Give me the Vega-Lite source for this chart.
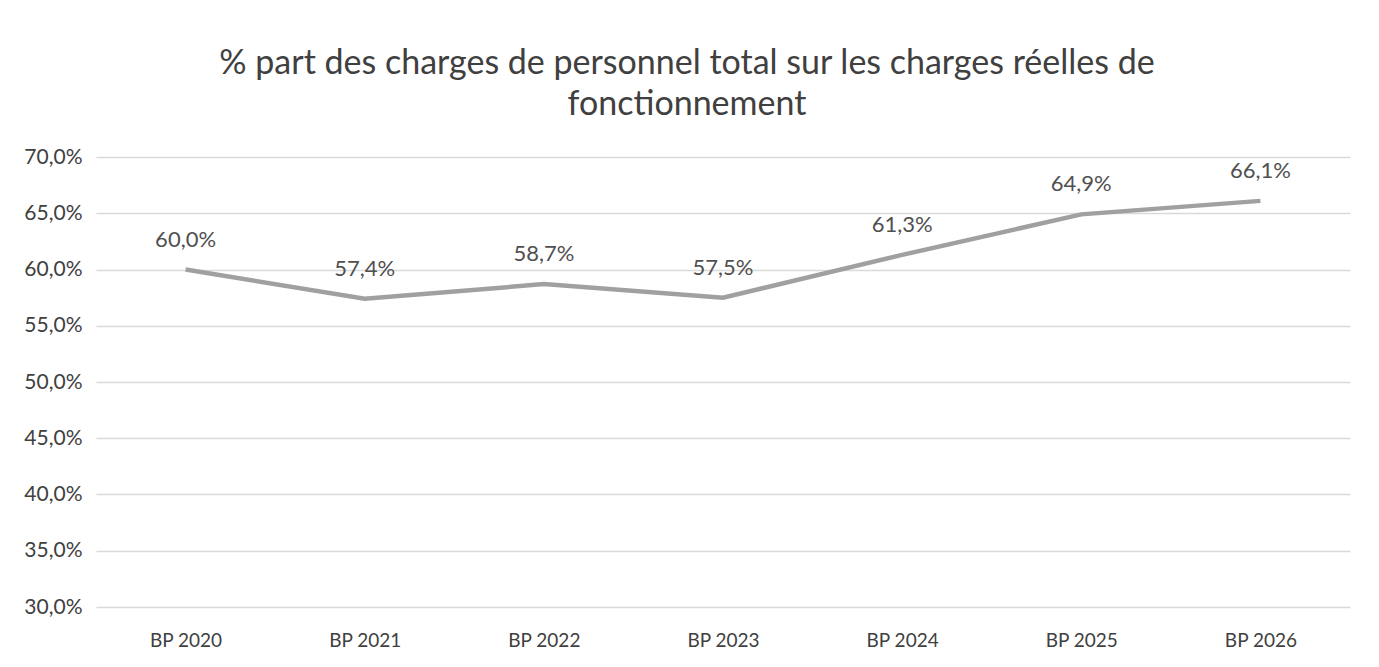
{
  "$schema": "https://vega.github.io/schema/vega-lite/v6.json",
  "width": 1254,
  "height": 450,
  "autosize": "none",
  "padding": {"left": 96, "top": 157, "right": 29, "bottom": 60},
  "background": "white",
  "title": {
    "text": ["% part des charges de personnel total sur les charges réelles de", "fonctionnement"],
    "font": "Lato",
    "fontSize": 34,
    "fontWeight": "normal",
    "color": "#404040",
    "lineHeight": 41,
    "anchor": "middle",
    "dx": -36,
    "offset": 24
  },
  "data": {
    "values": [
      {"annee": "BP 2020", "part": 0.600},
      {"annee": "BP 2021", "part": 0.574},
      {"annee": "BP 2022", "part": 0.587},
      {"annee": "BP 2023", "part": 0.575},
      {"annee": "BP 2024", "part": 0.613},
      {"annee": "BP 2025", "part": 0.649},
      {"annee": "BP 2026", "part": 0.661}
    ]
  },
  "encoding": {
    "x": {
      "field": "annee",
      "type": "ordinal",
      "sort": null,
      "scale": {"type": "point", "padding": 0.5},
      "axis": {
        "title": null,
        "labelAngle": 0,
        "labelFont": "Lato",
        "labelFontSize": 19,
        "labelColor": "#404040",
        "labelPadding": 24,
        "ticks": false,
        "domain": false,
        "grid": false
      }
    },
    "y": {
      "field": "part",
      "type": "quantitative",
      "scale": {"domain": [0.3, 0.7], "nice": false, "zero": false},
      "axis": {
        "title": null,
        "values": [0.3, 0.35, 0.4, 0.45, 0.5, 0.55, 0.6, 0.65, 0.7],
        "format": ".1%",
        "labelFont": "Lato",
        "labelFontSize": 21,
        "labelColor": "#404040",
        "labelPadding": 14,
        "ticks": false,
        "domain": false,
        "grid": true,
        "gridColor": "#d9d9d9",
        "gridWidth": 1.5
      }
    }
  },
  "layer": [
    {
      "mark": {"type": "line", "color": "#a0a0a0", "strokeWidth": 4.5}
    },
    {
      "mark": {"type": "text", "dy": -30, "font": "Lato", "fontSize": 22, "color": "#505050"},
      "encoding": {
        "text": {"field": "part", "type": "quantitative", "format": ".1%"}
      }
    }
  ],
  "config": {
    "view": {"stroke": null},
    "locale": {
      "number": {"decimal": ",", "thousands": " ", "grouping": [3], "currency": ["", " €"]}
    }
  }
}
